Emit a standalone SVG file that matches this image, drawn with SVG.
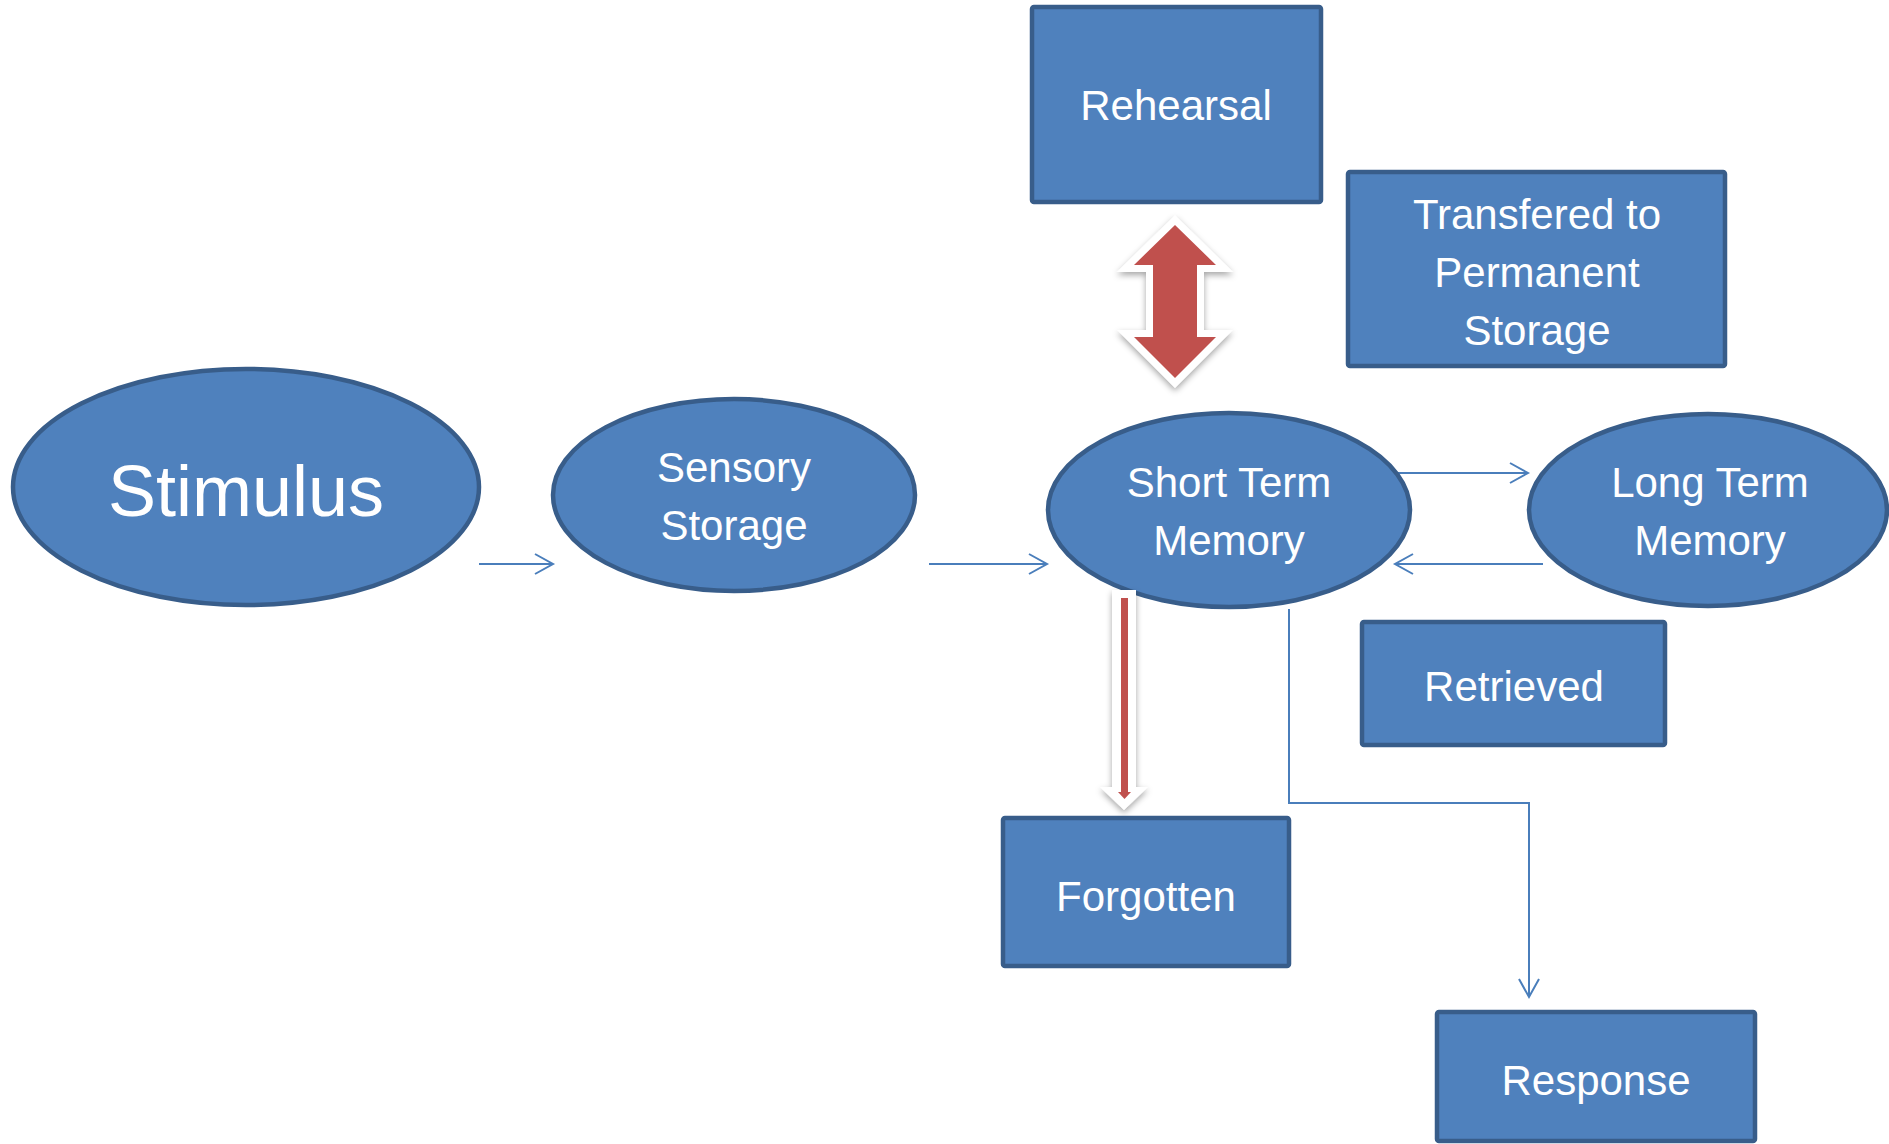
<svg xmlns="http://www.w3.org/2000/svg" width="1889" height="1144" viewBox="0 0 1889 1144">
<style>
.node{fill:#4F81BD;stroke:#385D8A;stroke-width:4.5}
.lbl{font-family:"Liberation Sans",Arial,sans-serif;font-size:42px;fill:#FFFFFF;text-anchor:middle}
.conn{fill:none;stroke:#4A7EBB;stroke-width:2}
</style>
<defs>
<marker id="arr" markerUnits="userSpaceOnUse" markerWidth="24" markerHeight="24" refX="20" refY="12" orient="auto">
<path d="M2,2 L20,12 L2,22" fill="none" stroke="#4A7EBB" stroke-width="2"/>
</marker>
<filter id="sh" x="-30%" y="-30%" width="160%" height="160%">
<feDropShadow dx="0" dy="3" stdDeviation="3" flood-color="#000" flood-opacity="0.35"/>
</filter>
</defs>
<rect width="1889" height="1144" fill="#FFFFFF"/>

<g id="connectors">
<line class="conn" x1="479" y1="564" x2="553" y2="564" marker-end="url(#arr)"/>
<line class="conn" x1="929" y1="564" x2="1047" y2="564" marker-end="url(#arr)"/>
<line class="conn" x1="1380" y1="473" x2="1528" y2="473" marker-end="url(#arr)"/>
<line class="conn" x1="1543" y1="564" x2="1395" y2="564" marker-end="url(#arr)"/>
<polyline class="conn" points="1289,609 1289,803 1529,803 1529,997" marker-end="url(#arr)"/>
</g>

<g id="stimulus">
<ellipse class="node" cx="246" cy="487" rx="233" ry="118"/>
<text class="lbl" x="246" y="516" style="font-size:72px">Stimulus</text>
</g>

<g id="sensory-storage">
<ellipse class="node" cx="734" cy="495" rx="181" ry="96"/>
<text class="lbl" x="734" y="482">Sensory</text>
<text class="lbl" x="734" y="540">Storage</text>
</g>

<g id="short-term-memory">
<ellipse class="node" cx="1229" cy="510" rx="181" ry="97"/>
<text class="lbl" x="1229" y="497">Short Term</text>
<text class="lbl" x="1229" y="555">Memory</text>
</g>

<g id="long-term-memory">
<ellipse class="node" cx="1708" cy="510" rx="179" ry="96"/>
<text class="lbl" x="1710" y="497">Long Term</text>
<text class="lbl" x="1710" y="555">Memory</text>
</g>

<g id="rehearsal">
<rect class="node" x="1032" y="7" width="289" height="195" rx="2"/>
<text class="lbl" x="1176" y="120">Rehearsal</text>
</g>

<g id="transfered">
<rect class="node" x="1348" y="172" width="377" height="194" rx="2"/>
<text class="lbl" x="1537" y="229">Transfered to</text>
<text class="lbl" x="1537" y="287">Permanent</text>
<text class="lbl" x="1537" y="345">Storage</text>
</g>

<g id="retrieved">
<rect class="node" x="1362" y="622" width="303" height="123" rx="2"/>
<text class="lbl" x="1514" y="701">Retrieved</text>
</g>

<g id="forgotten">
<rect class="node" x="1003" y="818" width="286" height="148" rx="2"/>
<text class="lbl" x="1146" y="911">Forgotten</text>
</g>

<g id="response">
<rect class="node" x="1437" y="1012" width="318" height="129" rx="2"/>
<text class="lbl" x="1596" y="1095">Response</text>
</g>

<g id="rehearsal-arrow">
<polygon points="1175,225 1216,265 1197,265 1197,337 1216,337 1175,378 1134,337 1153,337 1153,265 1134,265" fill="#FFFFFF" stroke="#FFFFFF" stroke-width="14" stroke-linejoin="miter" stroke-miterlimit="4" filter="url(#sh)"/>
<polygon points="1175,225 1216,265 1197,265 1197,337 1216,337 1175,378 1134,337 1153,337 1153,265 1134,265" fill="#C0504D"/>
</g>

<g id="forgotten-arrow">
<polygon points="1112,590 1136,590 1136,787 1148,787 1124,810 1100,787 1112,787" fill="#FFFFFF" filter="url(#sh)"/>
<rect x="1121" y="598" width="7" height="194" fill="#C0504D"/>
<polygon points="1118,792 1131,792 1124.5,799" fill="#C0504D"/>
</g>
</svg>
